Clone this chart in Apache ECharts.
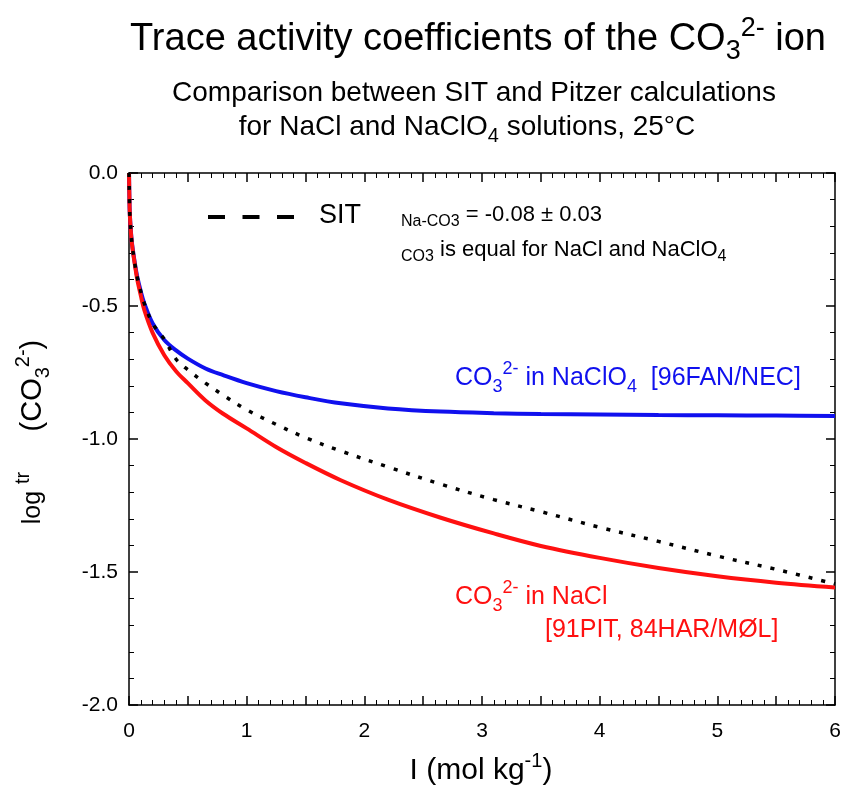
<!DOCTYPE html>
<html>
<head>
<meta charset="utf-8">
<script src="https://cdn.jsdelivr.net/npm/echarts@6/dist/echarts.min.js"></script>
<style>
html,body{margin:0;padding:0;background:#fff;}
#chart{width:847px;height:789px;}
</style>
</head>
<body>
<div id="chart"></div>
<script>
// Ionic strength I (mol kg-1)
var ionicStrength = [0, 0.005, 0.01, 0.02, 0.03, 0.05, 0.07, 0.1, 0.13, 0.2, 0.3, 0.4, 0.5, 0.65, 0.8, 1.0, 1.25, 1.5, 1.8, 2.2, 2.65, 3.1, 3.5, 4.0, 4.5, 5.0, 5.5, 6.0];
// Pitzer, NaClO4 [96FAN/NEC]
var pitzerNaClO4 = [0, -0.13, -0.18, -0.24, -0.28, -0.34, -0.39, -0.445, -0.49, -0.565, -0.628, -0.667, -0.698, -0.735, -0.76, -0.79, -0.82, -0.843, -0.866, -0.885, -0.897, -0.903, -0.906, -0.908, -0.91, -0.911, -0.912, -0.914];
// Pitzer, NaCl [91PIT, 84HAR/MØL]
var pitzerNaCl = [0, -0.13, -0.18, -0.245, -0.285, -0.345, -0.40, -0.46, -0.515, -0.60, -0.685, -0.745, -0.79, -0.855, -0.905, -0.96, -1.03, -1.09, -1.155, -1.228, -1.296, -1.355, -1.402, -1.447, -1.485, -1.516, -1.54, -1.558];
// SIT
var sitCurve = [0, -0.13, -0.18, -0.242, -0.283, -0.342, -0.392, -0.445, -0.49, -0.565, -0.625, -0.70, -0.74, -0.79, -0.835, -0.89, -0.945, -0.995, -1.045, -1.105, -1.17, -1.228, -1.273, -1.332, -1.385, -1.44, -1.49, -1.545];

var xTicks = [0, 1, 2, 3, 4, 5, 6];
var yTicks = ['0.0', '-0.5', '-1.0', '-1.5', '-2.0'];

function pairs(xs, ys) { return xs.map(function (x, i) { return [x, ys[i]]; }); }

var FONT = '"Liberation Sans", Arial, sans-serif';
var BLUE = '#1010ee', RED = '#ff1010';
var chart = echarts.init(document.getElementById('chart'));

function axisCommon(showLabel, isX) {
  return {
    axisLine: { show: true, onZero: false, lineStyle: { color: '#000', width: 1.5 } },
    axisTick: { show: true, inside: true, length: 9, lineStyle: { color: '#000', width: 1.5 } },
    minorTick: { show: true, splitNumber: 5, length: 5, lineStyle: { color: '#000', width: 1 } },
    splitLine: { show: false },
    minorSplitLine: { show: false },
    axisLabel: showLabel ? {
      show: true, color: '#000', fontFamily: FONT, fontSize: 21,
      margin: isX ? 16 : 11,
      formatter: isX ? function (v) { return Number.isInteger(v) && xTicks.indexOf(v) >= 0 ? String(v) : ''; }
                     : function (v) { var s = v.toFixed(1); return yTicks.indexOf(s) >= 0 ? s : ''; }
    } : { show: false }
  };
}

function rich(color, n, s, lh) {
  return {
    n: { fontSize: n, fontFamily: FONT, fill: color, lineHeight: lh, verticalAlign: 'middle' },
    sub: { fontSize: s, fontFamily: FONT, fill: color, lineHeight: lh, verticalAlign: 'bottom' },
    sup: { fontSize: s, fontFamily: FONT, fill: color, lineHeight: lh, verticalAlign: 'top' }
  };
}

var lineCommon = { type: 'line', showSymbol: false, smooth: 0.35 };

var option = {
  backgroundColor: '#fff',
  animation: false,
  grid: { left: 129, right: 12, top: 173, bottom: 84 },
  xAxis: [
    Object.assign({ type: 'value', min: 0, max: 6, interval: 0.5, position: 'bottom' }, axisCommon(true, true)),
    Object.assign({ type: 'value', min: 0, max: 6, interval: 0.5, position: 'top' }, axisCommon(false, true))
  ],
  yAxis: [
    Object.assign({ type: 'value', min: -2, max: 0, interval: 0.5, position: 'left' }, axisCommon(true, false)),
    Object.assign({ type: 'value', min: -2, max: 0, interval: 0.5, position: 'right' }, axisCommon(false, false))
  ],
  series: [
    Object.assign({ name: 'NaClO4', data: pairs(ionicStrength, pitzerNaClO4),
      lineStyle: { color: BLUE, width: 4 }, z: 3 }, lineCommon),
    Object.assign({ name: 'NaCl', data: pairs(ionicStrength, pitzerNaCl),
      lineStyle: { color: RED, width: 4 }, z: 3 }, lineCommon),
    Object.assign({ name: 'SIT', data: pairs(ionicStrength, sitCurve),
      lineStyle: { color: '#000', width: 3.5, type: [4, 9] }, z: 4 }, lineCommon)
  ],
  graphic: [
    { type: 'text', x: 478, y: 40, style: {
      text: '{n|Trace activity coefficients of the CO}{sub|3}{sup|2-}{n| ion}',
      align: 'center', verticalAlign: 'middle',
      rich: rich('#000', 38, 27, 50) } },
    { type: 'text', x: 474, y: 93, style: {
      text: 'Comparison between SIT and Pitzer calculations', font: '28px ' + FONT, fill: '#000',
      align: 'center', verticalAlign: 'middle' } },
    { type: 'text', x: 467, y: 127, style: {
      text: '{n|for NaCl and NaClO}{sub|4}{n| solutions, 25°C}',
      align: 'center', verticalAlign: 'middle',
      rich: rich('#000', 28, 20, 38) } },
    // x axis title
    { type: 'text', x: 481, y: 771, style: {
      text: '{n|I (mol kg}{sup|-1}{n|)}', align: 'center', verticalAlign: 'middle',
      rich: rich('#000', 30, 20, 40) } },
    // y axis title
    { type: 'text', x: 33, y: 432, rotation: Math.PI / 2, style: {
      text: '{a|log }{sup|tr}{n|     (CO}{sub|3}{sup|2-}{n|)}', align: 'center', verticalAlign: 'middle',
      rich: Object.assign(rich('#000', 29, 20, 40), {
        a: { fontSize: 25, fontFamily: FONT, fill: '#000', lineHeight: 40, verticalAlign: 'middle' } }) } },
    // legend sample for SIT
    { type: 'line', shape: { x1: 208, y1: 217, x2: 294, y2: 217 },
      style: { stroke: '#000', lineWidth: 4, lineDash: [17, 17.5] } },
    { type: 'text', left: 319, top: 202, style: { text: 'SIT', font: '27px ' + FONT, fill: '#000' } },
    { type: 'text', left: 401, top: 204, style: {
      text: '{s|Na-CO3}{n| = -0.08 ± 0.03}',
      rich: {
        n: { fontSize: 22, fontFamily: FONT, fill: '#000', lineHeight: 30, verticalAlign: 'middle' },
        s: { fontSize: 16, fontFamily: FONT, fill: '#000', lineHeight: 30, verticalAlign: 'bottom' } } } },
    { type: 'text', left: 401, top: 239, style: {
      text: '{s|CO3}{n| is equal for NaCl and NaClO}{s|4}',
      rich: {
        n: { fontSize: 22, fontFamily: FONT, fill: '#000', lineHeight: 30, verticalAlign: 'middle' },
        s: { fontSize: 16, fontFamily: FONT, fill: '#000', lineHeight: 30, verticalAlign: 'bottom' } } } },
    { type: 'text', left: 455, top: 360, style: {
      text: '{n|CO}{sub|3}{sup|2-}{n| in NaClO}{sub|4}{n|  [96FAN/NEC]}',
      rich: rich(BLUE, 25, 18, 36) } },
    { type: 'text', left: 455, top: 579, style: {
      text: '{n|CO}{sub|3}{sup|2-}{n| in NaCl}',
      rich: rich(RED, 25, 18, 36) } },
    { type: 'text', left: 545, top: 618, style: {
      text: '[91PIT, 84HAR/MØL]', font: '25px ' + FONT, fill: RED } }
  ]
};
chart.setOption(option);
</script>
</body>
</html>
